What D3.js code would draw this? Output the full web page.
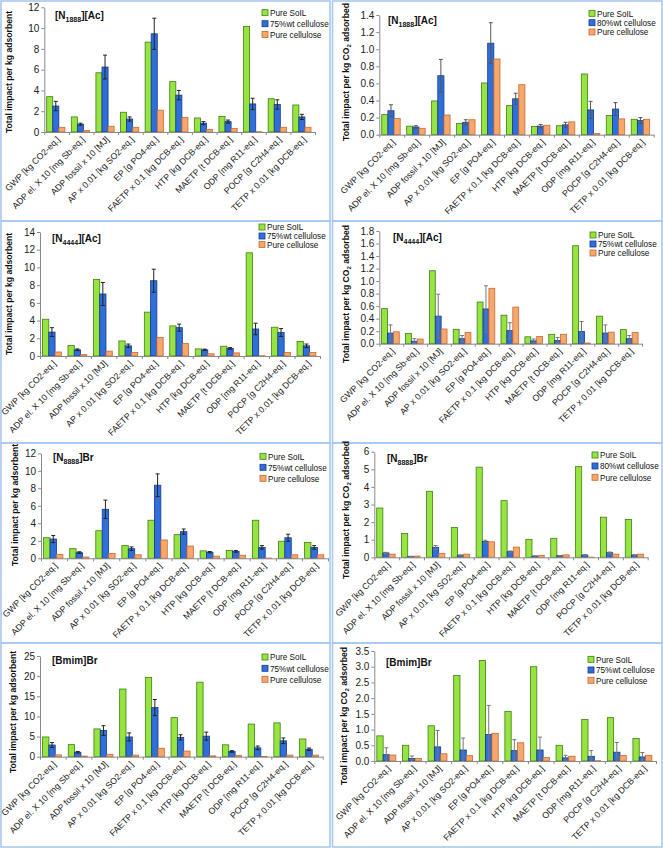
<!DOCTYPE html>
<html><head><meta charset="utf-8">
<script src="https://cdn.jsdelivr.net/npm/d3@7"></script>
<style>body{margin:0;background:#fff}svg{display:block}text{font-family:"Liberation Sans",Arial,sans-serif}</style>
</head><body><svg id="c" width="663" height="850"></svg>
<script>
// ---------- DATA ----------
const categories = ["GWP [kg CO2-eq.]", "ADP el. X 10 [mg Sb-eq.]", "ADP fossil x 10 [MJ]", "AP x 0.01 [kg SO2-eq.]", "EP [g PO4-eq.]", "FAETP x 0.1 [kg DCB-eq.]", "HTP [kg DCB-eq.]", "MAETP [t DCB-eq.]", "ODP [mg R11-eq.]", "POCP [g C2H4-eq.]", "TETP x 0.01 [kg DCB-eq.]"];
const seriesNames75 = ["Pure SoIL", "75%wt cellulose", "Pure cellulose"];
const seriesNames80 = ["Pure SoIL", "80%wt cellulose", "Pure cellulose"];

const n1888AdsSoil = [3.4,1.45,5.7,1.9,8.65,4.85,1.35,1.5,10.15,3.2,2.6];
const n1888AdsMix  = [2.5,0.75,6.25,1.25,9.45,3.55,0.85,1.0,2.7,2.65,1.45];
const n1888AdsErr  = [0.45,0.1,1.15,0.2,1.5,0.45,0.15,0.15,0.55,0.45,0.25];
const n1888AdsCell = [0.45,0.15,0.55,0.45,2.1,1.4,0.25,0.35,0.03,0.45,0.45];

const n1888Co2Soil = [0.235,0.1,0.395,0.13,0.605,0.34,0.095,0.105,0.71,0.225,0.18];
const n1888Co2Mix  = [0.28,0.09,0.69,0.145,1.07,0.42,0.1,0.115,0.29,0.3,0.165];
const n1888Co2Err  = [0.07,0.015,0.19,0.03,0.24,0.065,0.02,0.03,0.1,0.075,0.035];
const n1888Co2Cell = [0.19,0.075,0.23,0.175,0.885,0.585,0.11,0.15,0.015,0.185,0.18];

const n4444AdsSoil = [4.15,1.2,8.65,1.7,4.95,3.4,0.8,1.1,11.65,3.25,1.65];
const n4444AdsMix  = [2.7,0.7,7.0,1.15,8.5,3.2,0.7,0.85,3.05,2.65,1.15];
const n4444AdsErr  = [0.5,0.1,1.3,0.2,1.3,0.4,0.08,0.1,0.65,0.45,0.2];
const n4444AdsCell = [0.45,0.15,0.55,0.4,2.1,1.4,0.25,0.35,0.03,0.4,0.4];

const n4444Co2Soil = [0.56,0.165,1.165,0.23,0.665,0.455,0.11,0.15,1.565,0.44,0.225];
const n4444Co2Mix  = [0.17,0.04,0.44,0.08,0.555,0.21,0.045,0.05,0.195,0.17,0.08];
const n4444Co2Err  = [0.13,0.04,0.35,0.05,0.37,0.125,0.03,0.05,0.16,0.13,0.05];
const n4444Co2Cell = [0.19,0.075,0.235,0.18,0.885,0.585,0.115,0.15,0.01,0.185,0.18];

const n8888AdsSoil = [2.35,1.1,3.15,1.45,4.35,2.7,0.85,0.9,4.35,1.95,1.8];
const n8888AdsMix  = [2.2,0.65,5.6,1.1,8.35,3.05,0.7,0.8,1.25,2.35,1.25];
const n8888AdsErr  = [0.4,0.1,1.05,0.2,1.3,0.3,0.08,0.1,0.2,0.4,0.2];
const n8888AdsCell = [0.45,0.15,0.55,0.4,2.1,1.4,0.25,0.35,0.03,0.4,0.4];

const n8888Co2Soil = [2.8,1.35,3.75,1.7,5.12,3.22,1.02,1.08,5.15,2.28,2.15];
const n8888Co2Mix  = [0.25,0.05,0.57,0.12,0.9,0.32,0.07,0.09,0.13,0.26,0.13];
const n8888Co2Err  = [0.03,0.01,0.1,0.02,0.07,0.04,0.01,0.01,0.02,0.04,0.02];
const n8888Co2Cell = [0.18,0.07,0.22,0.18,0.88,0.58,0.11,0.14,0.01,0.18,0.18];

const bmimAdsSoil = [4.9,3.0,6.9,16.8,19.7,9.7,18.5,2.95,8.1,8.4,4.4];
const bmimAdsMix  = [2.9,1.1,6.5,4.9,12.2,4.8,5.1,1.3,2.2,3.95,1.85];
const bmimAdsErr  = [0.6,0.2,1.2,1.0,2.0,0.65,1.0,0.2,0.45,0.7,0.3];
const bmimAdsCell = [0.45,0.15,0.55,0.4,2.1,1.4,0.2,0.35,0.05,0.4,0.4];

const bmimCo2Soil = [0.8,0.5,1.12,2.72,3.2,1.58,3.0,0.5,1.32,1.38,0.72];
const bmimCo2Mix  = [0.2,0.08,0.45,0.35,0.84,0.33,0.35,0.1,0.15,0.28,0.13];
const bmimCo2Err  = [0.22,0.08,0.52,0.38,0.93,0.35,0.41,0.08,0.18,0.31,0.14];
const bmimCo2Cell = [0.19,0.08,0.23,0.17,0.88,0.58,0.11,0.15,0.01,0.18,0.18];

const ticks12 = [0,2,4,6,8,10,12];
const ticks14 = [0,2,4,6,8,10,12,14];
const ticks25 = [0,5,10,15,20,25];
const ticks6  = [0,1,2,3,4,5,6];
const ticks14d = [0,0.2,0.4,0.6,0.8,1.0,1.2,1.4];
const ticks18d = [0,0.2,0.4,0.6,0.8,1.0,1.2,1.4,1.6,1.8];
const ticks35d = [0,0.5,1.0,1.5,2.0,2.5,3.0,3.5];

const titleN1888 = ["[N", "1888", "][Ac]"];
const titleN4444 = ["[N", "4444", "][Ac]"];
const titleN8888 = ["[N", "8888", "]Br"];
const titleBmim  = ["[Bmim]Br", "", ""];

// ---------- LAYOUT / STYLE ----------
const fills   = ["#96e43f", "#2f6fdb", "#f7a66c"];
const strokes = ["#3f7f14", "#17398a", "#c46b32"];
const fmtInt = d3.format("d"), fmt1 = d3.format(".1f");

const panels = [
 {box:[1,1,330,221], x0:44.3, x1:315, yTop:7.3, yBot:132, ticks:ticks12, fmt:fmtInt, data:[n1888AdsSoil,n1888AdsMix,n1888AdsCell], err:n1888AdsErr, names:seriesNames75, title:titleN1888, tx:55, ty:19, lx:262, ly:[12.7,23.7,34.5], co2:false, ytx:11.5, yty:72, errColor:"#222"},
 {box:[332.5,1,662,221], x0:379.3, x1:653.7, yTop:15, yBot:134.7, ticks:ticks14d, fmt:fmt1, data:[n1888Co2Soil,n1888Co2Mix,n1888Co2Cell], err:n1888Co2Err, names:seriesNames80, title:titleN1888, tx:388, ty:24, lx:589, ly:[13.3,22.7,32], co2:true, ytx:349, yty:72, errColor:"#555"},
 {box:[1,221,330,443], x0:40, x1:320, yTop:232, yBot:356, ticks:ticks14, fmt:fmtInt, data:[n4444AdsSoil,n4444AdsMix,n4444AdsCell], err:n4444AdsErr, names:seriesNames75, title:titleN4444, tx:52, ty:242, lx:259, ly:[227,236,244.5], co2:false, ytx:11.5, yty:294, errColor:"#222"},
 {box:[332.5,221,662,443], x0:379.3, x1:642, yTop:231, yBot:343.7, ticks:ticks18d, fmt:fmt1, data:[n4444Co2Soil,n4444Co2Mix,n4444Co2Cell], err:n4444Co2Err, names:seriesNames75, title:titleN4444, tx:393, ty:241, lx:590, ly:[235,244,253], co2:true, ytx:349, yty:294, errColor:"#777"},
 {box:[1,443,330,643], x0:41, x1:328, yTop:453.3, yBot:558.3, ticks:ticks12, fmt:fmtInt, data:[n8888AdsSoil,n8888AdsMix,n8888AdsCell], err:n8888AdsErr, names:seriesNames75, title:titleN8888, tx:53, ty:461, lx:260, ly:[456.3,467.3,478.3], co2:false, ytx:18, yty:505, errColor:"#222"},
 {box:[332.5,443,662,643], x0:374.3, x1:647.7, yTop:451.7, yBot:557.3, ticks:ticks6, fmt:fmtInt, data:[n8888Co2Soil,n8888Co2Mix,n8888Co2Cell], err:n8888Co2Err, names:seriesNames80, title:titleN8888, tx:387, ty:462, lx:592, ly:[455,466,477.3], co2:true, ytx:349, yty:510, errColor:"#777"},
 {box:[1,643,330,847], x0:40, x1:322.7, yTop:656, yBot:756.7, ticks:ticks25, fmt:fmtInt, data:[bmimAdsSoil,bmimAdsMix,bmimAdsCell], err:bmimAdsErr, names:seriesNames75, title:titleBmim, tx:52, ty:664, lx:262, ly:[657,668.3,679.3], co2:false, ytx:16, yty:712, errColor:"#222"},
 {box:[332.5,643,662,847], x0:374.3, x1:656, yTop:651, yBot:761, ticks:ticks35d, fmt:fmt1, data:[bmimCo2Soil,bmimCo2Mix,bmimCo2Cell], err:bmimCo2Err, names:seriesNames75, title:titleBmim, tx:386, ty:666, lx:588, ly:[659.3,670,680.3], co2:true, ytx:347, yty:716, errColor:"#777"}
];

const svg = d3.select("#c");

function drawPanel(p) {
  const g = svg.append("g");
  g.append("rect").attr("x", p.box[0]).attr("y", p.box[1])
    .attr("width", p.box[2]-p.box[0]).attr("height", p.box[3]-p.box[1])
    .attr("fill", "none").attr("stroke", "#a8c8f0").attr("stroke-width", 1.6);

  const yMax = p.ticks[p.ticks.length-1];
  const x = d3.scaleBand().domain(categories).range([p.x0, p.x1]);
  const y = d3.scaleLinear().domain([0, yMax]).range([p.yBot, p.yTop]);
  const bw = x.bandwidth();
  const inner = d3.scaleBand().domain([0,1,2]).range([bw*0.13, bw*0.87]);

  // bars
  p.data.forEach((vals, si) => {
    g.append("g").selectAll("rect").data(vals).join("rect")
      .attr("x", (d,i) => x(categories[i]) + inner(si) - 0.8)
      .attr("y", d => y(d))
      .attr("width", inner.bandwidth())
      .attr("height", d => y(0) - y(d))
      .attr("fill", fills[si]).attr("stroke", strokes[si]).attr("stroke-width", 0.8);
  });

  // error bars on the mixture series
  const eg = g.append("g").attr("stroke", p.errColor).attr("stroke-width", 1).attr("fill", "none");
  p.data[1].forEach((v, i) => {
    const e = p.err[i];
    const cx = x(categories[i]) + inner(1) - 0.8 + inner.bandwidth()/2;
    const hi = y(v + e), lo = y(Math.max(0, v - e));
    eg.append("line").attr("x1", cx).attr("x2", cx).attr("y1", hi).attr("y2", lo);
    eg.append("line").attr("x1", cx-2).attr("x2", cx+2).attr("y1", hi).attr("y2", hi);
    eg.append("line").attr("x1", cx-2).attr("x2", cx+2).attr("y1", lo).attr("y2", lo);
  });

  // y axis
  const ya = g.append("g").attr("transform", `translate(${p.x0},0)`)
    .call(d3.axisLeft(y).tickValues(p.ticks).tickFormat(p.fmt).tickSize(3).tickSizeOuter(0).tickPadding(2));
  ya.selectAll("path,line").attr("stroke", "#8a8a8a");
  ya.selectAll("text").attr("font-size", 10).attr("fill", "#222")
    .style("font-family", '"Liberation Sans", Arial, sans-serif');

  // x axis with boundary ticks
  const xb = d3.scaleLinear().domain([0, categories.length]).range([p.x0, p.x1]);
  const xa = g.append("g").attr("transform", `translate(0,${p.yBot})`)
    .call(d3.axisBottom(xb).tickValues(d3.range(categories.length+1)).tickFormat("").tickSize(3).tickSizeOuter(0));
  xa.selectAll("path,line").attr("stroke", "#8a8a8a");

  // category labels
  g.append("g").selectAll("text").data(categories).join("text")
    .attr("transform", c => `translate(${x(c) + bw/2 + 4},${p.yBot + 8}) rotate(-45)`)
    .attr("text-anchor", "end").attr("font-size", 8.8).attr("fill", "#222")
    .text(c => c);

  // y axis title
  const yt = g.append("text")
    .attr("transform", `translate(${p.ytx},${p.yty}) rotate(-90)`)
    .attr("text-anchor", "middle").attr("font-size", 8.6).attr("font-weight", "bold").attr("fill", "#111");
  if (p.co2) {
    yt.append("tspan").text("Total impact per kg CO");
    yt.append("tspan").attr("font-size", 6).attr("dy", 2).text("2");
    yt.append("tspan").attr("dy", -2).text(" adsorbed");
  } else {
    yt.text("Total impact per kg adsorbent");
  }

  // panel title
  const tt = g.append("text").attr("x", p.tx).attr("y", p.ty)
    .attr("font-size", 10).attr("font-weight", "bold").attr("fill", "#111");
  tt.append("tspan").text(p.title[0]);
  if (p.title[1]) {
    tt.append("tspan").attr("font-size", 7).attr("dy", 2.5).text(p.title[1]);
    tt.append("tspan").attr("dy", -2.5).text(p.title[2]);
  }

  // legend
  p.names.forEach((n, si) => {
    g.append("rect").attr("x", p.lx).attr("y", p.ly[si]-3).attr("width", 6).attr("height", 6)
      .attr("fill", fills[si]).attr("stroke", strokes[si]).attr("stroke-width", 0.8);
    g.append("text").attr("x", p.lx + 8).attr("y", p.ly[si] + 3.2)
      .attr("font-size", 8.2).attr("fill", "#111").text(n);
  });
}

panels.forEach(drawPanel);
</script></body></html>
